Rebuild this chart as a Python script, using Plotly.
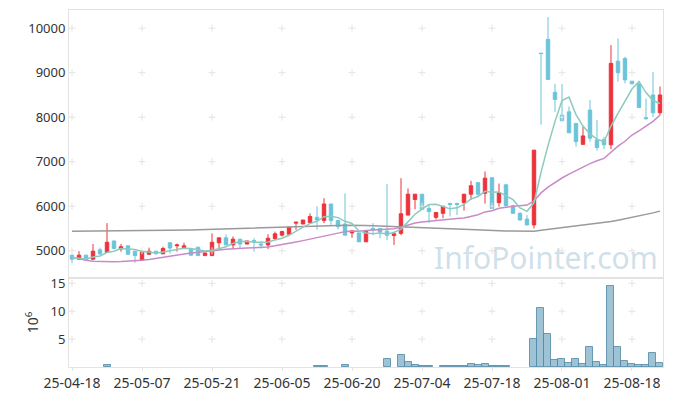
import plotly.graph_objects as go

dates = [
    "25-04-18", "25-04-21", "25-04-22", "25-04-23", "25-04-24", "25-04-25", "25-04-28", "25-04-29", "25-04-30", "25-05-02",
    "25-05-07", "25-05-08", "25-05-09", "25-05-12", "25-05-13", "25-05-14", "25-05-15", "25-05-16", "25-05-19", "25-05-20",
    "25-05-21", "25-05-22", "25-05-23", "25-05-26", "25-05-27", "25-05-28", "25-05-29", "25-05-30", "25-06-02", "25-06-04",
    "25-06-05", "25-06-09", "25-06-10", "25-06-11", "25-06-12", "25-06-13", "25-06-16", "25-06-17", "25-06-18", "25-06-19",
    "25-06-20", "25-06-23", "25-06-24", "25-06-25", "25-06-26", "25-06-27", "25-06-30", "25-07-01", "25-07-02", "25-07-03",
    "25-07-04", "25-07-07", "25-07-08", "25-07-09", "25-07-10", "25-07-11", "25-07-14", "25-07-15", "25-07-16", "25-07-17",
    "25-07-18", "25-07-21", "25-07-22", "25-07-23", "25-07-24", "25-07-25", "25-07-28", "25-07-29", "25-07-30", "25-07-31",
    "25-08-01", "25-08-04", "25-08-05", "25-08-06", "25-08-07", "25-08-08", "25-08-11", "25-08-12", "25-08-13", "25-08-14",
    "25-08-18", "25-08-19", "25-08-20", "25-08-21", "25-08-22",
]

open_ = [
    4900, 4810, 4900, 4810, 5020, 4960, 5220, 5040, 5110, 4990,
    4790, 4920, 4990, 4930, 5180, 5110, 5070, 5050, 5080, 4890,
    4890, 5180, 5290, 5130, 5260, 5150, 5230, 5150, 5130, 5270,
    5350, 5370, 5620, 5600, 5630, 5750, 5680, 6050, 5680, 5600,
    5400, 5400, 5200, 5500, 5500, 5440, 5340, 5390, 5800, 6150,
    6270, 5950, 5750, 5840, 6060, 6060, 6080, 6270, 6530, 6290,
    6640, 6080, 6480, 6010, 5840, 5710, 5580, 9440, 9750, 8560,
    8050, 8120, 7860, 7390, 8160, 7490, 7500, 7380, 9260, 9320,
    8810, 8750, 7990, 8500, 8100,
]
high = [
    4910, 4990, 4910, 5150, 5070, 5620, 5220, 5150, 5110, 4990,
    4960, 5070, 4990, 5090, 5180, 5160, 5180, 5050, 5080, 4950,
    5390, 5290, 5370, 5320, 5260, 5220, 5280, 5220, 5370, 5430,
    5450, 5530, 5650, 5690, 5840, 6000, 6180, 6050, 5680, 6290,
    5450, 5400, 5440, 5620, 5500, 6500, 5430, 6630, 6400, 6270,
    6270, 6030, 5860, 6000, 6080, 6080, 6270, 6570, 6530, 6780,
    6650, 6510, 6490, 6030, 5860, 5800, 7260, 9440, 10250, 8750,
    8750, 8240, 7860, 7790, 8390, 7940, 7560, 9620, 9770, 9360,
    8810, 8750, 8420, 9020, 8690,
]
low = [
    4720, 4790, 4780, 4790, 4900, 4960, 5050, 4980, 4920, 4730,
    4790, 4920, 4900, 4930, 4940, 4980, 5040, 4880, 4890, 4890,
    4890, 5020, 5130, 5050, 5050, 5150, 4980, 5050, 5040, 5240,
    5320, 5370, 5470, 5600, 5630, 5470, 5620, 5580, 5480, 5350,
    5290, 5200, 5200, 5350, 5280, 5240, 5130, 5350, 5800, 5930,
    5930, 5620, 5700, 5730, 5770, 5800, 5900, 6140, 6230, 6060,
    5950, 5990, 6000, 5830, 5680, 5570, 5500, 7830, 8840, 8120,
    7920, 7650, 7340, 7390, 7450, 7250, 7280, 7280, 8800, 8760,
    8750, 8220, 7940, 8000, 8050,
]
close = [
    4810, 4900, 4790, 4990, 4930, 5190, 5050, 5090, 4920, 4890,
    4960, 4990, 4940, 5050, 5060, 5130, 5110, 4900, 4890, 4950,
    5190, 5290, 5130, 5260, 5150, 5220, 5200, 5130, 5280, 5380,
    5430, 5530, 5640, 5690, 5770, 5690, 6050, 5680, 5540, 5350,
    5450, 5200, 5440, 5470, 5420, 5350, 5380, 5830, 6270, 6270,
    5930, 5880, 5860, 6000, 6040, 6040, 6270, 6460, 6270, 6630,
    5950, 6300, 6010, 5840, 5690, 5580, 7260, 9430, 8850, 8400,
    7920, 7650, 7450, 7580, 7530, 7320, 7380, 9210, 9000, 8840,
    8750, 8220, 7970, 8100, 8500,
]

ma5 = [
    4850, 4830, 4815, 4860, 4882, 4959, 4990, 5050, 5035, 5028,
    4983, 4971, 4941, 4968, 5002, 5035, 5058, 5050, 5017, 4995,
    5007, 5044, 5089, 5164, 5205, 5211, 5193, 5193, 5196, 5240,
    5282, 5347, 5449, 5531, 5609, 5661, 5766, 5774, 5744, 5661,
    5613, 5444, 5398, 5383, 5396, 5375, 5410, 5486, 5648, 5819,
    5936, 6036, 6042, 5987, 5941, 5963, 6042, 6163, 6217, 6334,
    6316, 6322, 6233, 6147, 5960, 5885, 6077, 6760, 7362, 7905,
    8373, 8451, 8055, 7801, 7625, 7506, 7450, 7802, 8087, 8349,
    8633, 8803, 8554, 8374, 8307,
]
ma20 = [
    4850, 4815, 4785, 4765, 4755, 4752, 4752, 4756, 4762, 4772,
    4786, 4805, 4830, 4858, 4885, 4910, 4932, 4950, 4965, 4977,
    4996, 5016, 5032, 5046, 5057, 5059, 5066, 5068, 5086, 5110,
    5134, 5160, 5195, 5227, 5262, 5290, 5337, 5376, 5409, 5429,
    5442, 5437, 5453, 5463, 5477, 5483, 5492, 5527, 5576, 5621,
    5646, 5664, 5675, 5690, 5704, 5722, 5733, 5772, 5809, 5872,
    5897, 5952, 5981, 6000, 6013, 6025, 6119, 6299, 6428, 6535,
    6634, 6723, 6803, 6882, 6956, 7020, 7075, 7213, 7349, 7460,
    7599, 7695, 7793, 7906, 8046,
]
ma120 = [
    5435, 5436, 5437, 5438, 5439, 5440, 5441, 5442, 5443, 5444,
    5445, 5446, 5447, 5448, 5450, 5455, 5460, 5465, 5470, 5475,
    5480, 5485, 5490, 5495, 5500, 5510, 5517, 5525, 5532, 5540,
    5545, 5550, 5553, 5556, 5558, 5560, 5562, 5565, 5568, 5572,
    5575, 5570, 5565, 5560, 5555, 5552, 5550, 5545, 5540, 5535,
    5528, 5520, 5512, 5505, 5495, 5488, 5480, 5472, 5465, 5458,
    5452, 5448, 5445, 5442, 5440, 5437, 5436, 5460, 5480, 5500,
    5520, 5540, 5558, 5575, 5592, 5610, 5628, 5655, 5685, 5715,
    5745, 5775, 5810, 5850, 5890,
]

# volume in millions of shares (axis labelled 10^6); 0 = too small to see
volume_m = [
    0, 0, 0, 0, 0, 0.35, 0, 0, 0, 0,
    0, 0, 0, 0, 0, 0, 0, 0, 0, 0,
    0, 0, 0, 0, 0, 0, 0, 0, 0, 0,
    0, 0, 0, 0, 0, 0.15, 0.15, 0, 0, 0.35,
    0, 0, 0, 0, 0, 1.44, 0, 2.16, 0.84, 0.36,
    0.12, 0.12, 0, 0.10, 0.10, 0.10, 0.12, 0.54, 0.36, 0.50,
    0.12, 0.12, 0.12, 0, 0, 0, 5.00, 10.50, 5.87, 1.20,
    1.38, 0.66, 1.38, 0.48, 3.60, 0.84, 0.36, 14.50, 3.60, 1.00,
    0.48, 0.30, 0.30, 2.45, 0.66,
]

tick_dates = ["25-04-18", "25-05-07", "25-05-21", "25-06-05", "25-06-20",
              "25-07-04", "25-07-18", "25-08-01", "25-08-18"]
price_ticks = [5000, 6000, 7000, 8000, 9000, 10000]
vol_ticks = [5, 10, 15]

RED = "#ec333b"
BLUE = "#6cc4da"
FONT = "Noto Sans"
GRID = "#e3e3e3"

fig = go.Figure()

# grid "+" markers at tick intersections
fig.add_trace(go.Scatter(
    x=[d for d in tick_dates for _ in price_ticks],
    y=[p for _ in tick_dates for p in price_ticks],
    mode="markers", xaxis="x", yaxis="y",
    marker=dict(symbol="cross-thin", size=5, line=dict(color="#e4e4e4", width=1)),
    hoverinfo="skip", showlegend=False,
))
fig.add_trace(go.Scatter(
    x=[d for d in tick_dates for _ in vol_ticks],
    y=[v for _ in tick_dates for v in vol_ticks],
    mode="markers", xaxis="x2", yaxis="y2",
    marker=dict(symbol="cross-thin", size=5, line=dict(color="#e4e4e4", width=1)),
    hoverinfo="skip", showlegend=False,
))

fig.add_trace(go.Candlestick(
    x=dates, open=open_, high=high, low=low, close=close,
    xaxis="x", yaxis="y",
    increasing=dict(line=dict(color=RED, width=1), fillcolor=RED),
    decreasing=dict(line=dict(color=BLUE, width=1), fillcolor=BLUE),
    whiskerwidth=0, showlegend=False, name="",
))

fig.add_trace(go.Scatter(x=dates, y=ma120, mode="lines", xaxis="x", yaxis="y",
                         line=dict(color="#9a9a9a", width=1.5), showlegend=False))
fig.add_trace(go.Scatter(x=dates, y=ma20, mode="lines", xaxis="x", yaxis="y",
                         line=dict(color="#c98bc6", width=1.5), showlegend=False))
fig.add_trace(go.Scatter(x=dates, y=ma5, mode="lines", xaxis="x", yaxis="y",
                         line=dict(color="#8ccbbd", width=1.5), showlegend=False))

fig.add_trace(go.Bar(
    x=dates, y=volume_m, xaxis="x2", yaxis="y2", width=1.0,
    marker=dict(color="rgba(140,184,204,0.85)",
                line=dict(color="rgba(80,135,165,0.8)",
                          width=[1 if v > 0 else 0 for v in volume_m])),
    showlegend=False,
))

split = (367 - 278) / 357.0
xr = [-0.43, 84.43]

fig.update_layout(
    width=673, height=396,
    margin=dict(l=69, r=10, t=10, b=29, autoexpand=False),
    paper_bgcolor="white", plot_bgcolor="white",
    font=dict(family=FONT, size=13, color="#333333"),
    bargap=0, boxgap=0.3,
    xaxis=dict(type="category", categoryorder="array", categoryarray=dates,
               range=xr, domain=[0, 1], anchor="y", automargin=False,
               showticklabels=False, showgrid=False, zeroline=False,
               showline=True, mirror=True, linecolor=GRID, linewidth=1,
               rangeslider=dict(visible=False), ticks=""),
    yaxis=dict(domain=[split, 1], range=[4387, 10409], anchor="x", automargin=False,
               tickmode="array", tickvals=price_ticks,
               ticktext=[str(p) for p in price_ticks],
               showgrid=False, zeroline=False,
               showline=True, mirror=True, linecolor=GRID, linewidth=1,
               tickfont=dict(size=13, color="#333333"), ticks=""),
    xaxis2=dict(type="category", categoryorder="array", categoryarray=dates,
                range=xr, domain=[0, 1], anchor="y2", matches="x", automargin=False,
                tickmode="array", tickvals=tick_dates, ticktext=tick_dates,
                showgrid=False, zeroline=False,
                showline=True, mirror=True, linecolor=GRID, linewidth=1,
                ticks="outside", ticklen=3, tickcolor=GRID,
                tickfont=dict(size=14, color="#333333")),
    yaxis2=dict(domain=[0, split], range=[0, 15.95], anchor="x2", automargin=False,
                tickmode="array", tickvals=vol_ticks,
                ticktext=[str(v) for v in vol_ticks],
                showgrid=False, zeroline=False,
                showline=True, mirror=True, linecolor=GRID, linewidth=1,
                tickfont=dict(size=13, color="#333333"), ticks="",
                title=dict(text="10<sup>6</sup>", font=dict(size=14, color="#333333"),
                           standoff=8)),
    annotations=[dict(
        text="InfoPointer.com", xref="paper", yref="paper",
        x=0.803, y=0.308, xanchor="center", yanchor="middle",
        showarrow=False,
        font=dict(family=FONT, size=30, color="rgba(175,203,219,0.6)"),
    )],
)

fig.write_html("out.html", config={"displayModeBar": False},
               post_script="document.body.style.margin='0';document.body.style.overflow='hidden';")
